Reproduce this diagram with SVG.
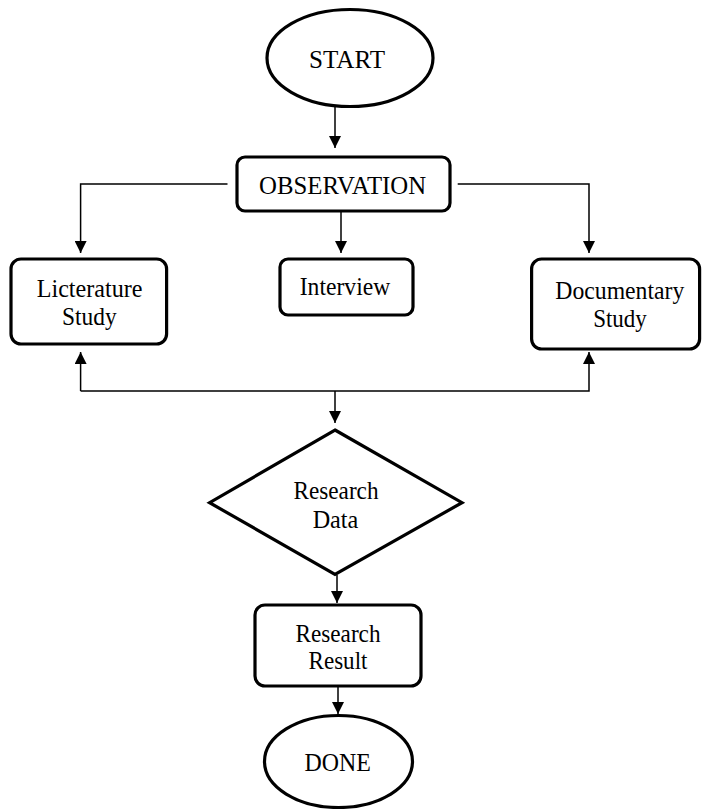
<svg xmlns="http://www.w3.org/2000/svg" width="702" height="809" viewBox="0 0 702 809">
<style>
.node{fill:#fff;stroke:#000;stroke-width:3.2}
.conn{fill:none;stroke:#000;stroke-width:1.5}
text{font-family:"Liberation Serif","Times New Roman",serif;font-size:25px;fill:#000;text-anchor:middle}
</style>
<defs>
<marker id="ah" markerWidth="12" markerHeight="12" refX="10" refY="5" orient="auto" markerUnits="userSpaceOnUse" viewBox="0 0 10 10">
<path d="M0,0 L10,5 L0,10 Z" fill="#000"/>
</marker>
</defs>
<rect width="702" height="809" fill="#fff"/>
<g id="connectors">
<line class="conn" x1="335" y1="107" x2="335" y2="148" marker-end="url(#ah)"/>
<polyline class="conn" points="227.5,184 80.6,184 80.6,253" marker-end="url(#ah)"/>
<line class="conn" x1="341" y1="211" x2="341" y2="253" marker-end="url(#ah)"/>
<polyline class="conn" points="457.7,184 589,184 589,253" marker-end="url(#ah)"/>
<polyline class="conn" points="80.6,391 80.6,352" marker-end="url(#ah)"/>
<polyline class="conn" points="80.6,391 589,391 589,352" marker-end="url(#ah)"/>
<line class="conn" x1="335" y1="391" x2="335" y2="423" marker-end="url(#ah)"/>
<line class="conn" x1="337" y1="575" x2="337" y2="603" marker-end="url(#ah)"/>
<line class="conn" x1="338" y1="686" x2="338" y2="714" marker-end="url(#ah)"/>
</g>
<g id="start">
<ellipse class="node" cx="350" cy="58" rx="83" ry="48.5"/>
<text x="347" y="67.5" textLength="76" lengthAdjust="spacingAndGlyphs">START</text>
</g>
<g id="observation">
<rect class="node" x="237" y="157" width="213" height="54" rx="8"/>
<text x="342.6" y="194" textLength="167" lengthAdjust="spacingAndGlyphs">OBSERVATION</text>
</g>
<g id="literature">
<rect class="node" x="11" y="259" width="155.6" height="85" rx="10"/>
<text x="89.6" y="297" textLength="105.7" lengthAdjust="spacingAndGlyphs">Licterature</text>
<text x="89.3" y="325" textLength="54.6" lengthAdjust="spacingAndGlyphs">Study</text>
</g>
<g id="interview">
<rect class="node" x="280" y="259" width="133" height="56" rx="8"/>
<text x="345" y="295" textLength="90.5" lengthAdjust="spacingAndGlyphs">Interview</text>
</g>
<g id="documentary">
<rect class="node" x="531.6" y="259" width="168" height="90" rx="10"/>
<text x="619.8" y="299" textLength="129" lengthAdjust="spacingAndGlyphs">Documentary</text>
<text x="620" y="327" textLength="53.7" lengthAdjust="spacingAndGlyphs">Study</text>
</g>
<g id="research-data">
<polygon class="node" points="335,430 462,502.7 335,574.3 209.6,502.7"/>
<text x="336" y="499" textLength="85" lengthAdjust="spacingAndGlyphs">Research</text>
<text x="335.5" y="528" textLength="45.7" lengthAdjust="spacingAndGlyphs">Data</text>
</g>
<g id="research-result">
<rect class="node" x="255" y="605" width="166" height="81" rx="10"/>
<text x="338" y="642" textLength="85" lengthAdjust="spacingAndGlyphs">Research</text>
<text x="338" y="669" textLength="59" lengthAdjust="spacingAndGlyphs">Result</text>
</g>
<g id="done">
<ellipse class="node" cx="338.5" cy="761.5" rx="74" ry="46"/>
<text x="337.6" y="770.5" textLength="66.3" lengthAdjust="spacingAndGlyphs">DONE</text>
</g>
</svg>
